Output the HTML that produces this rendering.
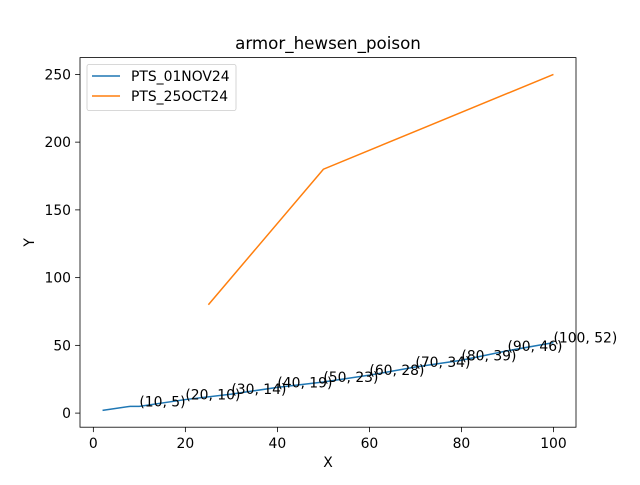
<!DOCTYPE html>
<html><head><meta charset="utf-8"><style>
body{margin:0;background:#fff;}
svg text{font-family:"DejaVu Sans","Liberation Sans",sans-serif;}
</style></head><body>
<svg id="chart" width="640" height="480" xmlns="http://www.w3.org/2000/svg">
<rect width="640" height="480" fill="#fff"/>
<g id="plot"></g>
</svg>
<script>
const blueX=[2,8,10,20,30,40,50,60,70,80,90,100];
const blueY=[2,5,5,10,14,19,23,28,34,39,46,52];
const labelIdx=[2,3,4,5,6,7,8,9,10,11];
const orangeX=[25,50,100];
const orangeY=[80,180,250];
const xTicks=[0,20,40,60,80,100];
const yTicks=[0,50,100,150,200,250];
const seriesNames=["PTS_01NOV24","PTS_25OCT24"];

const L=80,R=576,T=57.6,B=427.2;
const xmin=-2.9,xmax=104.9,ymin=-10.4,ymax=262.4;
const sx=v=>L+(v-xmin)/(xmax-xmin)*(R-L);
const sy=v=>B-(v-ymin)/(ymax-ymin)*(B-T);
const NS="http://www.w3.org/2000/svg";
const g=document.getElementById('plot');
function mk(tag,attrs,txt){const e=document.createElementNS(NS,tag);for(const k in attrs)e.setAttribute(k,attrs[k]);if(txt!==undefined)e.textContent=txt;g.appendChild(e);return e;}
const FS=13.9;
let e;
e=mk('rect',{x:L,y:T,width:R-L,height:B-T,fill:'none',stroke:'#000','stroke-width':0.8});



xTicks.forEach(v=>{
 e=mk('line',{x1:sx(v),x2:sx(v),y1:B,y2:B+4.9,stroke:'#000','stroke-width':0.8});
 
 
 e=mk('text',{x:sx(v),y:B+21,'text-anchor':'middle','font-size':FS},v);
 
 
});
yTicks.forEach(v=>{
 e=mk('line',{x1:L-4.9,x2:L,y1:sy(v),y2:sy(v),stroke:'#000','stroke-width':0.8});
 
 
 e=mk('text',{x:L-9,y:sy(v)+5,'text-anchor':'end','font-size':FS},v);
 
 
});
e=mk('text',{x:(L+R)/2,y:467,'text-anchor':'middle','font-size':FS},'X');


e=mk('text',{x:34,y:(T+B)/2,'text-anchor':'middle','font-size':FS,transform:`rotate(-90 34 ${(T+B)/2})`},'Y');


e=mk('text',{x:(L+R)/2,y:49,'text-anchor':'middle','font-size':16.7},'armor_hewsen_poison');



e=mk('polyline',{points:blueX.map((x,i)=>sx(x)+','+sy(blueY[i])).join(' '),fill:'none',stroke:'#1f77b4','stroke-width':1.5});


e=mk('polyline',{points:orangeX.map((x,i)=>sx(x)+','+sy(orangeY[i])).join(' '),fill:'none',stroke:'#ff7f0e','stroke-width':1.5});



labelIdx.forEach(i=>{
 e=mk('text',{x:sx(blueX[i]),y:sy(blueY[i]),'font-size':FS},`(${blueX[i]}, ${blueY[i]})`);
 
 
});

e=mk('rect',{x:87,y:64.5,width:149,height:46,rx:2,fill:'#fff',stroke:'#ccc','stroke-width':0.8});


const colors=['#1f77b4','#ff7f0e'];
seriesNames.forEach((n,i)=>{
 const y=76+i*20;
 e=mk('line',{x1:92,x2:120,y1:y,y2:y,stroke:colors[i],'stroke-width':1.5});
 
 
 e=mk('text',{x:131,y:y+5,'font-size':FS},n);
 
 
});
</script>
</body></html>
